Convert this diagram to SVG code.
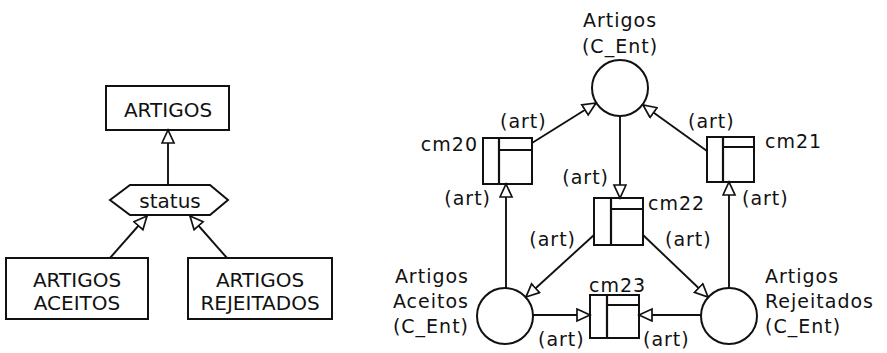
<svg xmlns="http://www.w3.org/2000/svg" width="887" height="353" viewBox="0 0 887 353">
<style>
.bg{fill:#fff}
.box{fill:#fff;stroke:#111;stroke-width:2}
.tr{fill:#fff;stroke:#111;stroke-width:2}
.div{fill:none;stroke:#111;stroke-width:2.2}
.pl{fill:#fff;stroke:#111;stroke-width:2}
.c{fill:none;stroke:#111;stroke-width:1.9}
.tl{font-family:"DejaVu Sans",sans-serif;font-size:20px;fill:#111}
.tr2{font-family:"DejaVu Sans",sans-serif;font-size:19px;fill:#111;letter-spacing:1px}
.m{text-anchor:middle}
.e{text-anchor:end}
</style>
<defs>
<marker id="ah" markerUnits="userSpaceOnUse" markerWidth="16" markerHeight="16" refX="14" refY="7" orient="auto">
<path d="M1,1 L14,7 L1,13 Z" fill="#fff" stroke="#111" stroke-width="1.7"/>
</marker>
</defs>
<rect class="bg" x="0" y="0" width="887" height="353"/>

<!-- Left: generalization diagram -->
<g id="artigos">
<rect class="box" x="106" y="86" width="123" height="44"/>
<text class="tl m" x="168" y="117">ARTIGOS</text>
</g>
<g id="status">
<polygon class="box" points="110,200 130,185 210,185 228,200 210,215 130,215"/>
<text class="tl m" x="170" y="208">status</text>
</g>
<g id="artigos-aceitos">
<rect class="box" x="6" y="258" width="142" height="61"/>
<text class="tl m" x="77" y="287">ARTIGOS</text>
<text class="tl m" x="77" y="310">ACEITOS</text>
</g>
<g id="artigos-rejeitados">
<rect class="box" x="188" y="258" width="144" height="61"/>
<text class="tl m" x="260" y="287">ARTIGOS</text>
<text class="tl m" x="260" y="310">REJEITADOS</text>
</g>

<!-- Right: net -->
<g id="p-artigos">
<circle class="pl" cx="620" cy="88" r="28"/>
<text class="tr2 m" x="620" y="27">Artigos</text>
<text class="tr2 m" x="620" y="53">(C_Ent)</text>
</g>
<g id="p-aceitos">
<circle class="pl" cx="505" cy="316" r="28"/>
<text class="tr2 e" x="469" y="283">Artigos</text>
<text class="tr2 e" x="469" y="308">Aceitos</text>
<text class="tr2 e" x="469" y="333">(C_Ent)</text>
</g>
<g id="p-rejeitados">
<circle class="pl" cx="729" cy="316" r="28"/>
<text class="tr2" x="765" y="283">Artigos</text>
<text class="tr2" x="765" y="308">Rejeitados</text>
<text class="tr2" x="765" y="333">(C_Ent)</text>
</g>
<g id="cm20">
<rect class="tr" x="483" y="138" width="49" height="46"/>
<path class="div" d="M499,138 V184 M499,150 H532"/>
<text class="tr2 e" x="478" y="151">cm20</text>
</g>
<g id="cm21">
<rect class="tr" x="707" y="137" width="47" height="45"/>
<path class="div" d="M723,137 V182 M723,147 H754"/>
<text class="tr2" x="765" y="148">cm21</text>
</g>
<g id="cm22">
<rect class="tr" x="594" y="198" width="49" height="47"/>
<path class="div" d="M611,198 V245 M611,209 H643"/>
<text class="tr2" x="648" y="210">cm22</text>
</g>
<g id="cm23">
<rect class="tr" x="590" y="295" width="49" height="43"/>
<path class="div" d="M607,295 V338 M607,305 H639"/>
<text class="tr2" x="589" y="292">cm23</text>
</g>

<g id="connectors">
<line class="c" x1="168" y1="185" x2="168" y2="130" marker-end="url(#ah)"/>
<line class="c" x1="110" y1="258" x2="147" y2="216" marker-end="url(#ah)"/>
<line class="c" x1="227" y1="258" x2="190" y2="216" marker-end="url(#ah)"/>

<line class="c" x1="532" y1="143" x2="596" y2="103" marker-end="url(#ah)"/>
<line class="c" x1="707" y1="151" x2="643" y2="105" marker-end="url(#ah)"/>
<line class="c" x1="620" y1="116" x2="620" y2="198" marker-end="url(#ah)"/>
<line class="c" x1="506" y1="288" x2="506" y2="184" marker-end="url(#ah)"/>
<line class="c" x1="729" y1="288" x2="729" y2="182" marker-end="url(#ah)"/>
<line class="c" x1="594" y1="235" x2="526" y2="297" marker-end="url(#ah)"/>
<line class="c" x1="643" y1="235" x2="708" y2="297" marker-end="url(#ah)"/>
<line class="c" x1="533" y1="315" x2="590" y2="315" marker-end="url(#ah)"/>
<line class="c" x1="701" y1="315" x2="639" y2="315" marker-end="url(#ah)"/>

<text class="tr2" x="500" y="128">(art)</text>
<text class="tr2" x="688" y="128">(art)</text>
<text class="tr2 e" x="609" y="184">(art)</text>
<text class="tr2 e" x="491" y="205">(art)</text>
<text class="tr2" x="742" y="205">(art)</text>
<text class="tr2 e" x="576" y="246">(art)</text>
<text class="tr2" x="665" y="246">(art)</text>
<text class="tr2" x="538" y="346">(art)</text>
<text class="tr2" x="643" y="346">(art)</text>
</g>
</svg>
